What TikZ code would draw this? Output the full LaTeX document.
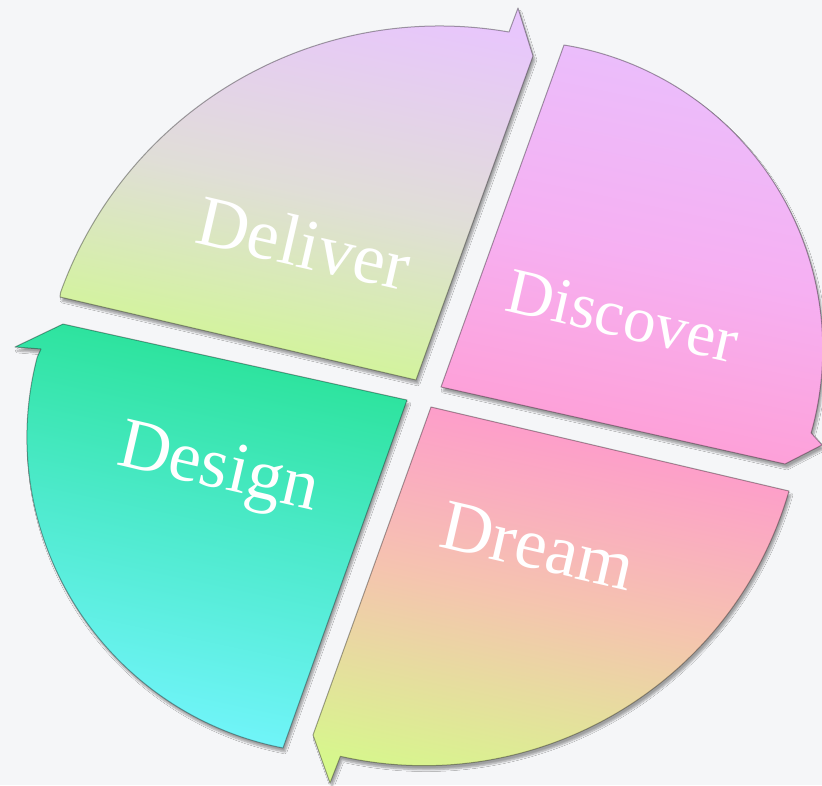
\documentclass[tikz,border=0pt]{standalone}
\usepackage{fontspec}
\setmainfont{Liberation Serif}
\usetikzlibrary{shadows.blur}
\definecolor{paper}{RGB}{245,246,248}
\definecolor{delivtop}{RGB}{232,198,252}
\definecolor{delivmid}{RGB}{224,222,215}
\definecolor{delivbot}{RGB}{208,248,145}
\definecolor{disctop}{RGB}{234,190,252}
\definecolor{discmid}{RGB}{246,176,242}
\definecolor{discbot}{RGB}{255,158,212}
\definecolor{dreamtop}{RGB}{255,150,208}
\definecolor{dreammid}{RGB}{245,196,175}
\definecolor{dreambot}{RGB}{214,248,140}
\definecolor{desigtop}{RGB}{40,226,150}
\definecolor{desigmid}{RGB}{78,234,205}
\definecolor{desigbot}{RGB}{115,245,252}

\begin{document}
\begin{tikzpicture}[x=1pt,y=-1pt,
	segment/.style={draw=black,draw opacity=0.35,line width=1pt,line join=round,
		blur shadow={shadow xshift=2pt,shadow yshift=-4pt,shadow blur steps=6,shadow opacity=35}},
	phase/.style={text=white,font=\fontsize{72}{76}\selectfont,rotate=-13}]
	
	\fill[paper] (0,0) rectangle (822,785);
	\useasboundingbox (0,0) rectangle (822,785);
	
	% Deliver
	\path[segment,top color=delivtop,bottom color=delivbot,middle color=delivmid,shading angle=-12]
		(60,297) -- (416,380) -- (533,56) -- (518,8) -- (509,32)
		arc[start angle=-80.1,end angle=-160.2,radius=403] -- cycle;
	% Discover
	\path[segment,top color=disctop,bottom color=discbot,middle color=discmid,shading angle=-12]
		(441,387) -- (564,45)
		arc[start angle=-80.8,end angle=15.8,radius=308] -- (822,445) -- (785,464) -- cycle;
	% Dream
	\path[segment,top color=dreamtop,bottom color=dreambot,middle color=dreammid,shading angle=-12]
		(431,407) -- (789,491)
		arc[start angle=16.1,end angle=102.7,radius=380] -- (330,783) -- (313,735) -- cycle;
	% Design
	\path[segment,top color=desigtop,bottom color=desigbot,middle color=desigmid,shading angle=-12]
		(407,400) -- (283,748)
		arc[start angle=101,end angle=194.7,radius=316.5] -- (41,349) -- (15,347) -- (63,324) -- cycle;
	
	\node[phase] (deliver)  at (304,243) {Deliver};
	\node[phase,font=\fontsize{65}{70}\selectfont] (discover) at (623,316) {Discover};
	\node[phase] (dream)    at (538,546) {Dream};
	\node[phase] (design)   at (218,472) {Design};
\end{tikzpicture}
\end{document}
